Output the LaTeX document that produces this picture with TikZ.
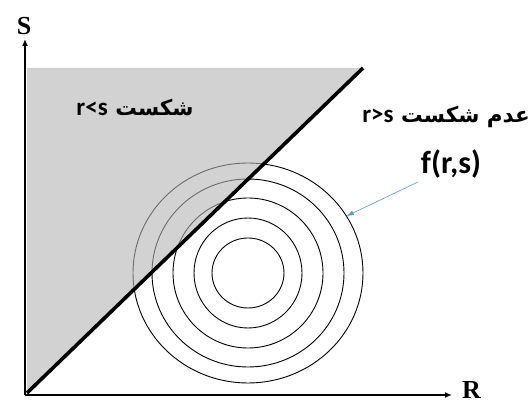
\documentclass[tikz,border=0pt]{standalone}
\usepackage{fontspec}
\setmainfont{Liberation Serif}
\newfontfamily\arabicfont[Script=Arabic]{DejaVu Sans}
\newfontfamily\carl{Carlito}
\TeXXeTstate=1
\usetikzlibrary{arrows.meta,shapes.geometric}
\definecolor{regiongray}{RGB}{180,180,180}
\definecolor{arrowblue}{RGB}{91,155,213}
\newcommand{\latinpart}[1]{{\carl\bfseries\fontsize{25}{29}\selectfont #1}}
\tikzset{
  axis/.style={line width=1.6pt,-{Latex[length=7pt,width=6pt]}},
  ring/.style={ellipse,draw,line width=0.9pt,inner sep=0pt},
  axislabel/.style={font=\bfseries\fontsize{26}{30}\selectfont,anchor=base,inner sep=0pt},
  region/.style={font=\bfseries\fontsize{21.5}{25}\selectfont},
  flabel/.style={font=\carl\bfseries\fontsize{32}{36}\selectfont},
  pointer/.style={arrowblue,line width=0.6pt,-{Latex[length=7pt,width=5pt]}}
}
\begin{document}
\begin{tikzpicture}[x=1pt,y=-1pt]
\useasboundingbox (0,0) rectangle (531,406);
\fill[white] (0,0) rectangle (531,406);
\coordinate (O) at (25,395);
\coordinate (Stop) at (25,39);
\coordinate (Rend) at (452,395);
\coordinate (Dlow) at (27,393);
\coordinate (Dtop) at (363,68);
% rings
\node[ring,minimum width=72pt,minimum height=70pt] (c1) at (248,273) {};
\node[ring,minimum width=108pt,minimum height=110pt] (c2) at (248,273) {};
\node[ring,minimum width=150pt,minimum height=150pt] (c3) at (248,273) {};
\node[ring,minimum width=192pt,minimum height=188pt] (c4) at (248,273) {};
\node[ring,minimum width=230pt,minimum height=220pt] (c5) at (248,273) {};
% shaded region
\fill[regiongray,fill opacity=0.6] (27,68) -- (Dtop) -- (Dlow) -- cycle;
% dividing line
\draw[line width=3.6pt] (Dlow) -- (Dtop);
% axes
\draw[axis] (O) -- (Stop);
\draw[axis] (O) -- (Rend);
\node[axislabel] (S) at (24,35) {S};
\node[axislabel] (R) at (471.5,399) {R};
% region labels
\node[region] (fail) at (135,107) {\arabicfont\beginR شکست \beginL\latinpart{r<s}\endL\endR};
\node[region,anchor=east,inner sep=1pt] (safe) at (531,117) {\arabicfont\beginR عدم شکست \beginL\latinpart{r>s}\endL\endR};
% f(r,s)
\node[flabel] (f) at (451,164) {f(r,s)};
\coordinate (ftail) at (418,182);
\draw[pointer] (ftail) -- (c5.30);
\end{tikzpicture}
\end{document}
